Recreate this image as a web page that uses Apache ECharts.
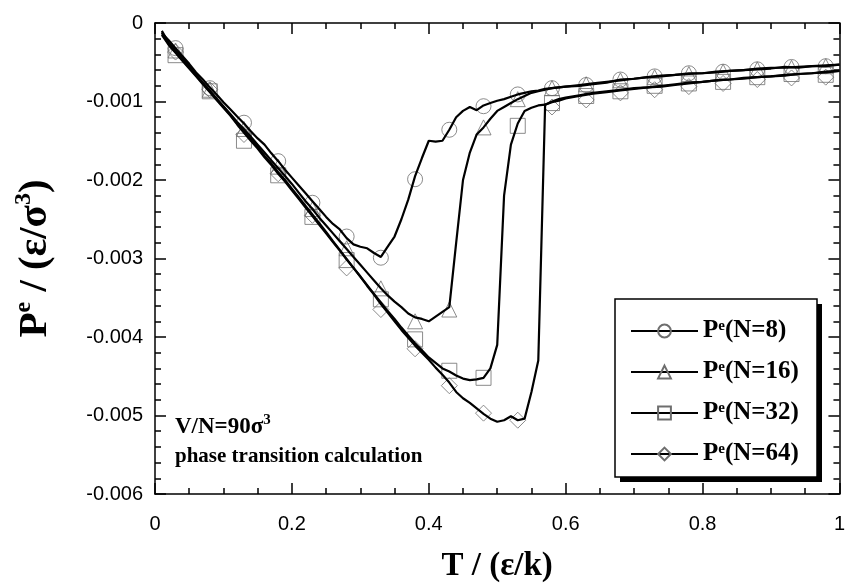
<!DOCTYPE html>
<html>
<head>
<meta charset="utf-8">
<script src="https://cdn.jsdelivr.net/npm/echarts@6/dist/echarts.min.js"></script>
<style>html,body{margin:0;padding:0;background:#fff}#c{width:848px;height:588px}</style>
</head>
<body>
<div id="c"></div>
<script>
// Temperature grid of the dense curves, T / (eps/k)
const tLine = [0.01,0.02,0.03,0.04,0.05,0.06,0.07,0.08,0.09,0.10,
  0.11,0.12,0.13,0.14,0.15,0.16,0.17,0.18,0.19,0.20,
  0.21,0.22,0.23,0.24,0.25,0.26,0.27,0.28,0.29,0.30,
  0.31,0.32,0.33,0.34,0.35,0.36,0.37,0.38,0.39,0.40,
  0.41,0.42,0.43,0.44,0.45,0.46,0.47,0.48,0.49,0.50,
  0.51,0.52,0.53,0.54,0.55,0.56,0.57,0.58,0.59,0.60,
  0.62,0.64,0.66,0.68,0.70,0.72,0.74,0.76,0.78,0.80,
  0.82,0.84,0.86,0.88,0.90,0.92,0.94,0.96,0.98,1.00];
// Curve values in units of 1e-3 eps/sigma^3
const p8 = [-0.13,-0.22,-0.32,-0.42,-0.52,-0.63,-0.72,-0.82,-0.91,-1.01,
  -1.10,-1.19,-1.28,-1.38,-1.47,-1.55,-1.66,-1.76,-1.87,-1.97,
  -2.07,-2.17,-2.27,-2.37,-2.47,-2.56,-2.63,-2.74,-2.82,-2.85,
  -2.87,-2.93,-2.98,-2.85,-2.72,-2.50,-2.25,-1.95,-1.72,-1.50,
  -1.51,-1.50,-1.36,-1.20,-1.12,-1.07,-1.11,-1.05,-1.02,-0.99,
  -0.97,-0.94,-0.91,-0.89,-0.87,-0.86,-0.84,-0.83,-0.82,-0.81,
  -0.80,-0.78,-0.76,-0.72,-0.71,-0.69,-0.67,-0.66,-0.64,-0.64,
  -0.63,-0.61,-0.60,-0.59,-0.58,-0.56,-0.57,-0.55,-0.55,-0.53];
const p16 = [-0.10,-0.25,-0.35,-0.44,-0.55,-0.66,-0.76,-0.86,-0.96,-1.06,
  -1.16,-1.26,-1.35,-1.45,-1.55,-1.65,-1.75,-1.85,-1.95,-2.05,
  -2.16,-2.27,-2.37,-2.48,-2.58,-2.68,-2.78,-2.88,-2.98,-3.08,
  -3.18,-3.28,-3.38,-3.47,-3.55,-3.62,-3.70,-3.75,-3.77,-3.80,
  -3.74,-3.68,-3.62,-2.80,-2.00,-1.65,-1.42,-1.33,-1.22,-1.12,
  -1.07,-1.02,-0.97,-0.93,-0.89,-0.87,-0.85,-0.83,-0.82,-0.81,
  -0.79,-0.77,-0.75,-0.73,-0.71,-0.69,-0.68,-0.66,-0.65,-0.64,
  -0.62,-0.61,-0.60,-0.58,-0.57,-0.57,-0.56,-0.55,-0.54,-0.53];
const p32 = [-0.15,-0.28,-0.38,-0.48,-0.58,-0.68,-0.78,-0.88,-0.98,-1.08,
  -1.18,-1.29,-1.40,-1.50,-1.60,-1.71,-1.81,-1.92,-2.02,-2.13,
  -2.24,-2.35,-2.46,-2.57,-2.68,-2.79,-2.90,-3.01,-3.12,-3.23,
  -3.34,-3.45,-3.56,-3.67,-3.77,-3.88,-3.98,-4.08,-4.17,-4.26,
  -4.33,-4.40,-4.44,-4.49,-4.53,-4.55,-4.54,-4.52,-4.40,-4.10,
  -2.20,-1.55,-1.28,-1.12,-1.08,-1.05,-1.04,-1.00,-0.97,-0.95,
  -0.92,-0.89,-0.87,-0.85,-0.83,-0.82,-0.80,-0.78,-0.76,-0.75,
  -0.73,-0.72,-0.70,-0.69,-0.68,-0.66,-0.65,-0.64,-0.63,-0.61];
const p64 = [-0.12,-0.27,-0.37,-0.47,-0.57,-0.67,-0.77,-0.87,-0.97,-1.07,
  -1.17,-1.28,-1.38,-1.48,-1.58,-1.69,-1.79,-1.90,-2.00,-2.11,
  -2.22,-2.33,-2.44,-2.55,-2.66,-2.78,-2.89,-3.01,-3.12,-3.23,
  -3.35,-3.46,-3.58,-3.69,-3.80,-3.91,-4.01,-4.11,-4.20,-4.29,
  -4.39,-4.48,-4.58,-4.70,-4.78,-4.84,-4.91,-4.98,-5.04,-5.08,
  -5.06,-5.01,-5.06,-5.04,-4.70,-4.30,-1.04,-1.01,-0.99,-0.96,
  -0.93,-0.90,-0.88,-0.86,-0.84,-0.82,-0.81,-0.79,-0.77,-0.75,
  -0.73,-0.72,-0.71,-0.69,-0.68,-0.67,-0.65,-0.64,-0.62,-0.61];
// Marker positions (every 0.05 in T), units of 1e-3
const tMark = [0.03,0.08,0.13,0.18,0.23,0.28,0.33,0.38,0.43,0.48,
  0.53,0.58,0.63,0.68,0.73,0.78,0.83,0.88,0.93,0.98];
const m8 = [-0.32,-0.83,-1.27,-1.76,-2.29,-2.72,-2.99,-1.99,-1.36,-1.06,
  -0.91,-0.83,-0.79,-0.72,-0.68,-0.64,-0.62,-0.59,-0.56,-0.55];
const m16 = [-0.35,-0.85,-1.35,-1.83,-2.37,-2.87,-3.38,-3.80,-3.65,-1.33,
  -0.97,-0.83,-0.78,-0.73,-0.69,-0.65,-0.62,-0.59,-0.57,-0.55];
const m32 = [-0.41,-0.87,-1.50,-1.94,-2.47,-3.02,-3.52,-4.03,-4.43,-4.52,
  -1.31,-1.02,-0.93,-0.87,-0.80,-0.77,-0.75,-0.69,-0.65,-0.66];
const m64 = [-0.37,-0.85,-1.42,-1.92,-2.45,-3.12,-3.65,-4.15,-4.62,-4.97,
  -5.06,-1.07,-0.98,-0.89,-0.85,-0.81,-0.77,-0.72,-0.70,-0.69];
const seriesNames = ['N=8','N=16','N=32','N=64'];
const lineVals = [p8,p16,p32,p64];
const markVals = [m8,m16,m32,m64];
const symbols = ['circle','triangle','rect','diamond'];
const symSizes = [15,15,15,16];

const chart = echarts.init(document.getElementById('c'));
const serif = '"Liberation Serif","Times New Roman",serif';
const sans = '"Liberation Sans",Arial,sans-serif';
const markerColor = '#6e6e6e';

const series = [];
seriesNames.forEach((nm, k) => {
  series.push({
    name: 'M(' + nm + ')', type: 'scatter', z: 2,
    data: tMark.map((t, i) => [t, markVals[k][i] * 1e-3]),
    symbol: symbols[k], symbolSize: symSizes[k],
    itemStyle: {color: 'rgba(255,255,255,0)', borderColor: markerColor, borderWidth: 1},
    emphasis: {disabled: true}, silent: true
  });
  series.push({
    name: 'Pe(' + nm + ')', type: 'line', z: 3,
    data: tLine.map((t, i) => [t, lineVals[k][i] * 1e-3]),
    symbol: symbols[k], symbolSize: symSizes[k], showSymbol: false,
    lineStyle: {color: '#000', width: 2.2},
    itemStyle: {color: 'rgba(255,255,255,0)', borderColor: markerColor, borderWidth: 1},
    emphasis: {disabled: true}, silent: true
  });
});

// axis helpers: major axes (with line), minor-tick-only axes
const lineOn = {show: true, onZero: false, lineStyle: {color: '#000', width: 1.5}};
const lineOff = {show: false, onZero: false};
const tick = len => ({show: true, inside: true, length: len, lineStyle: {color: '#000', width: 1.5}});
function xAx(pos, interval, major, labels) {
  return {
    type: 'value', min: 0, max: 1, interval: interval, position: pos,
    axisLine: major ? lineOn : lineOff, axisTick: tick(major ? 11 : 6),
    splitLine: {show: false}, minorTick: {show: false},
    axisLabel: labels ? {fontFamily: sans, fontSize: 20, color: '#000', margin: 20,
      formatter: v => (v === 0 ? '0' : (v === 1 ? '1' : v.toFixed(1)))} : {show: false}
  };
}
function yAx(pos, interval, major, labels) {
  return {
    type: 'value', min: -0.006, max: 0, interval: interval, position: pos,
    axisLine: major ? lineOn : lineOff, axisTick: tick(major ? 11 : 6),
    splitLine: {show: false}, minorTick: {show: false},
    axisLabel: labels ? {fontFamily: sans, fontSize: 20, color: '#000', margin: 12,
      formatter: v => (Math.abs(v) < 1e-9 ? '0' : v.toFixed(3))} : {show: false}
  };
}
const xBottom = xAx('bottom', 0.2, true, true);
xBottom.name = 'T / (ε/k)';
xBottom.nameLocation = 'middle';
xBottom.nameGap = 56;
xBottom.nameTextStyle = {fontFamily: serif, fontWeight: 'bold', fontSize: 33, color: '#000'};
const yLeft = yAx('left', 0.001, true, true);
yLeft.name = '{a|P}{s|e}{a| / (ε/σ}{s|3}{a|)}';
yLeft.nameLocation = 'middle';
yLeft.nameGap = 99;
yLeft.nameRotate = 90;
yLeft.nameTextStyle = {
  rich: {
    a: {fontFamily: serif, fontWeight: 'bold', fontSize: 41, color: '#000', lineHeight: 44, verticalAlign: 'bottom'},
    s: {fontFamily: serif, fontWeight: 'bold', fontSize: 24, color: '#000', lineHeight: 44, verticalAlign: 'top', padding: [0, 0, 17, 0]}
  }
};

chart.setOption({
  animation: false,
  backgroundColor: '#fff',
  grid: {left: 155, right: 6, top: 23, bottom: 90, containLabel: false},
  xAxis: [xBottom, xAx('top', 0.2, true, false), xAx('bottom', 0.05, false, false), xAx('top', 0.05, false, false)],
  yAxis: [yLeft, yAx('right', 0.001, true, false), yAx('left', 0.0002, false, false), yAx('right', 0.0002, false, false)],
  legend: {
    data: seriesNames.map(n => 'Pe(' + n + ')'),
    orient: 'vertical', left: 615, top: 304,
    padding: [14, 14, 14, 15],
    itemWidth: 67, itemHeight: 16, itemGap: 15,
    selectedMode: false, z: 6,
    formatter: name => '{a|P}{s|e}{a|' + name.slice(2) + '}',
    textStyle: {
      rich: {
        a: {fontFamily: serif, fontWeight: 'bold', fontSize: 25, color: '#000', lineHeight: 24, verticalAlign: 'bottom'},
        s: {fontFamily: serif, fontWeight: 'bold', fontSize: 15, color: '#000', lineHeight: 24, verticalAlign: 'top', padding: [0, 0, 10, 0]}
      }
    }
  },
  graphic: [{
    type: 'rect', z: 4, silent: true,
    shape: {x: 620, y: 304, width: 202, height: 178},
    style: {fill: '#000'}
  }, {
    type: 'rect', z: 5, silent: true,
    shape: {x: 615, y: 299, width: 202, height: 178},
    style: {fill: '#fff', stroke: '#000', lineWidth: 1.5}
  }, {
    type: 'text', left: 175, top: 413, z: 5,
    style: {
      text: '{a|V/N=90σ}{s|3}',
      rich: {
        a: {fontFamily: serif, fontWeight: 'bold', fontSize: 23, fill: '#000', lineHeight: 26, verticalAlign: 'bottom'},
        s: {fontFamily: serif, fontWeight: 'bold', fontSize: 15, fill: '#000', lineHeight: 26, verticalAlign: 'top', padding: [0, 0, 10, 0]}
      }
    }
  }, {
    type: 'text', left: 175, top: 446, z: 5,
    style: {text: 'phase transition calculation', font: 'bold 21px ' + serif, fill: '#000'}
  }],
  series: series
});
</script>
</body>
</html>
